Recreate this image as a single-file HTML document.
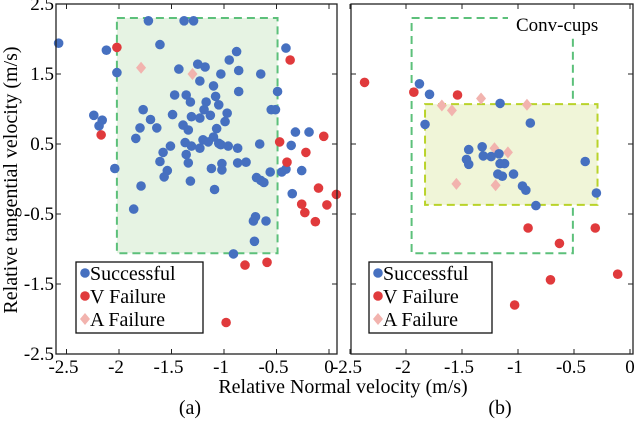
<!DOCTYPE html>
<html><head><meta charset="utf-8"><style>
html,body{margin:0;padding:0;background:#fff;width:634px;height:422px;overflow:hidden}
svg{display:block;font-family:"Liberation Serif",serif}
svg text{font-family:"Liberation Serif",serif}
</style></head><body>
<svg id="chart" width="634" height="422" font-family="Liberation Serif, serif" xmlns="http://www.w3.org/2000/svg"></svg>
<script>
// ---- data (panel a) ----
const aSuccX=[-2.575,-1.72,-1.38,-1.29,-2.12,-1.61,-2.02,-1.43,-1.25,-1.18,-1.23,-1.03,-0.88,-0.95,-0.86,-0.65,-0.86,-0.49,-0.41,-1.10,-1.47,-1.36,-1.32,-1.17,-1.08,-1.05,-1.77,-1.49,-1.31,-1.23,-1.13,-1.19,-0.97,-0.99,-0.55,-0.51,-2.24,-2.16,-2.19,-1.70,-1.80,-1.64,-1.39,-1.34,-1.84,-1.07,-1.10,-1.37,-1.31,-1.23,-1.15,-1.20,-1.05,-1.03,-0.96,-0.87,-0.66,-1.51,-1.58,-1.36,-1.34,-1.61,-1.54,-1.57,-1.12,-1.02,-1.02,-0.87,-0.79,-1.32,-1.09,-2.04,-1.79,-1.86,-0.69,-0.65,-0.62,-0.56,-0.45,-0.41,-0.36,-0.32,-0.19,-0.26,-0.35,-0.70,-0.72,-0.60,-0.71,-0.91];
const aSuccY=[1.94,2.26,2.26,2.26,1.84,1.92,1.52,1.57,1.64,1.60,1.40,1.50,1.82,1.70,1.55,1.50,1.25,1.25,1.87,1.33,1.20,1.20,1.10,1.10,1.18,1.06,0.99,0.92,0.89,0.87,0.91,0.99,0.94,0.82,0.99,0.99,0.91,0.84,0.76,0.85,0.73,0.73,0.77,0.70,0.58,0.72,0.60,0.52,0.47,0.44,0.53,0.56,0.51,0.49,0.47,0.44,0.50,0.47,0.38,0.35,0.23,0.25,0.12,0.03,0.15,0.22,0.13,0.23,0.24,-0.03,-0.15,0.15,-0.10,-0.43,0.02,-0.02,-0.05,0.10,0.10,0.14,0.48,0.67,0.67,0.12,-0.21,-0.54,-0.60,-0.60,-0.89,-1.07];
const aVX=[-2.02,-0.37,-2.17,-0.47,-0.22,-0.05,-0.40,-0.10,0.07,-0.26,-0.02,-0.23,-0.13,-0.80,-0.59,-0.98];
const aVY=[1.88,1.70,0.63,0.53,0.38,0.61,0.24,-0.13,-0.22,-0.36,-0.37,-0.48,-0.61,-1.23,-1.19,-2.05];
const aAX=[-1.79,-1.30];
const aAY=[1.59,1.50];
// ---- data (panel b) ----
const bSuccX=[-1.88,-1.79,-1.83,-1.16,-0.89,-1.44,-1.32,-1.46,-1.44,-1.31,-1.24,-1.17,-1.16,-1.12,-1.18,-1.14,-1.04,-0.96,-0.93,-0.84,-0.40,-0.30];
const bSuccY=[1.36,1.21,0.78,1.08,0.80,0.42,0.46,0.28,0.21,0.33,0.32,0.36,0.22,0.22,0.07,0.04,0.07,-0.10,-0.16,-0.38,0.25,-0.20];
const bVX=[-2.37,-1.93,-1.54,-0.91,-0.63,-0.31,-0.71,-0.11,-1.03];
const bVY=[1.38,1.24,1.20,-0.70,-0.92,-0.70,-1.44,-1.36,-1.80];
const bAX=[-1.68,-1.59,-1.33,-0.92,-1.21,-1.09,-1.55,-1.20];
const bAY=[1.05,0.98,1.15,1.06,0.44,0.38,-0.07,-0.09];
const xTicks=[-2.5,-2,-1.5,-1,-0.5,0];
const xTickLabels=["-2.5","-2","-1.5","-1","-0.5","0"];
const yTicks=[2.5,1.5,0.5,-0.5,-1.5,-2.5];
const yTickLabels=["2.5","1.5","0.5","-0.5","-1.5","-2.5"];

const NS="http://www.w3.org/2000/svg";
const svg=document.getElementById('chart');
function mk(tag,attrs,parent){const e=document.createElementNS(NS,tag);for(const k in attrs)e.setAttribute(k,attrs[k]);(parent||svg).appendChild(e);return e;}
const yTop=4,yBot=354;
function Y(v){return yTop+(2.5-v)*70;}
const panels=[
 {id:'a',left:56,right:337,x0:329,sc:105,label:'(a)',lx:190},
 {id:'b',left:351,right:633,x0:630,sc:112,label:'(b)',lx:500}
];
const BLUE='#4670c0',RED='#e03a3c',PINK='#f2b3ae';
panels.forEach((p,pi)=>{
 const X=v=>p.x0+v*p.sc;
 const g=mk('g',{});
 
 
 if(pi===0){
  const r=mk('rect',{x:X(-2.02),y:Y(2.3),width:X(-0.49)-X(-2.02),height:Y(-1.06)-Y(2.3),fill:'#e6f3e3',stroke:'#5cc07a','stroke-width':2,'stroke-dasharray':'8,5'},g);
  
  
 } else {
  const r=mk('rect',{x:X(-1.95),y:Y(2.3),width:X(-0.51)-X(-1.95),height:Y(-1.06)-Y(2.3),fill:'none',stroke:'#5cc07a','stroke-width':2,'stroke-dasharray':'8,5'},g);
  
  
  const r2=mk('rect',{x:X(-1.83),y:Y(1.07),width:X(-0.29)-X(-1.83),height:Y(-0.37)-Y(1.07),fill:'#f0f5d8',stroke:'#b9d32a','stroke-width':2,'stroke-dasharray':'8,5'},g);
  
  
  const wb=mk('rect',{x:508,y:10,width:115,height:28,fill:'#fff'},g);
  
  
  const t=mk('text',{x:516,y:31,'font-size':19},g);t.textContent='Conv-cups';
  
  
 }
 const sx=pi?bSuccX:aSuccX,sy=pi?bSuccY:aSuccY,vx=pi?bVX:aVX,vy=pi?bVY:aVY,ax=pi?bAX:aAX,ay=pi?bAY:aAY;
 ax.forEach((v,i)=>{const cx=X(v),cy=Y(ay[i]);
  const d=mk('polygon',{points:`${cx},${cy-6} ${cx+5},${cy} ${cx},${cy+6} ${cx-5},${cy}`,fill:PINK},g);
  
  });
 sx.forEach((v,i)=>{const c=mk('circle',{cx:X(v),cy:Y(sy[i]),r:4.8,fill:BLUE},g);
  
  });
 vx.forEach((v,i)=>{const c=mk('circle',{cx:X(v),cy:Y(vy[i]),r:4.8,fill:RED},g);
  
  });
 const f=mk('rect',{x:p.left,y:yTop,width:p.right-p.left,height:yBot-yTop,fill:'none',stroke:'#222','stroke-width':1.3},g);
 
 
 xTicks.forEach((v,i)=>{const x=X(v);
  mk('line',{x1:x,y1:yBot,x2:x,y2:yBot-5,stroke:'#222'},g);
  mk('line',{x1:x,y1:yTop,x2:x,y2:yTop+5,stroke:'#222'},g);
  const t=mk('text',{x:x-(v<0?3:0),y:yBot+19,'font-size':19,'text-anchor':'middle'},g);t.textContent=xTickLabels[i];
  
  });
 yTicks.forEach((v,i)=>{const y=Y(v);
  mk('line',{x1:p.left,y1:y,x2:p.left+5,y2:y,stroke:'#222'},g);
  mk('line',{x1:p.right,y1:y,x2:p.right-5,y2:y,stroke:'#222'},g);
  if(pi===0){const t=mk('text',{x:p.left-2,y:y+6,'font-size':19,'text-anchor':'end'},g);t.textContent=yTickLabels[i];
  
  }});
 const lx=pi?369:76;
 const lg=mk('g',{},g);
 
 
 mk('rect',{x:lx,y:262,width:pi?123:127,height:71,fill:'#fff',stroke:'#111','stroke-width':1.3},lg);
 const items=[['Successful',BLUE,'c'],['V Failure',RED,'c'],['A Failure',PINK,'d']];
 items.forEach((it,i)=>{const cy=273+i*23;
  if(it[2]==='c')mk('circle',{cx:lx+9,cy:cy,r:4.8,fill:it[1]},lg);
  else mk('polygon',{points:`${lx+9},${cy-6} ${lx+14},${cy} ${lx+9},${cy+6} ${lx+4},${cy}`,fill:it[1]},lg);
  const t=mk('text',{x:lx+14,y:cy+7,'font-size':20},lg);t.textContent=it[0];
  
  });
 const pl=mk('text',{x:p.lx,y:414,'font-size':20,'text-anchor':'middle'},g);pl.textContent=p.label;
 
 
});
const xt=mk('text',{x:343,y:393,'font-size':20,'text-anchor':'middle'});xt.textContent='Relative Normal velocity (m/s)';


const yt=mk('text',{x:0,y:0,'font-size':20,'text-anchor':'middle',transform:'translate(17,180) rotate(-90)'});yt.textContent='Relative tangential velocity (m/s)';


</script>
</body></html>
